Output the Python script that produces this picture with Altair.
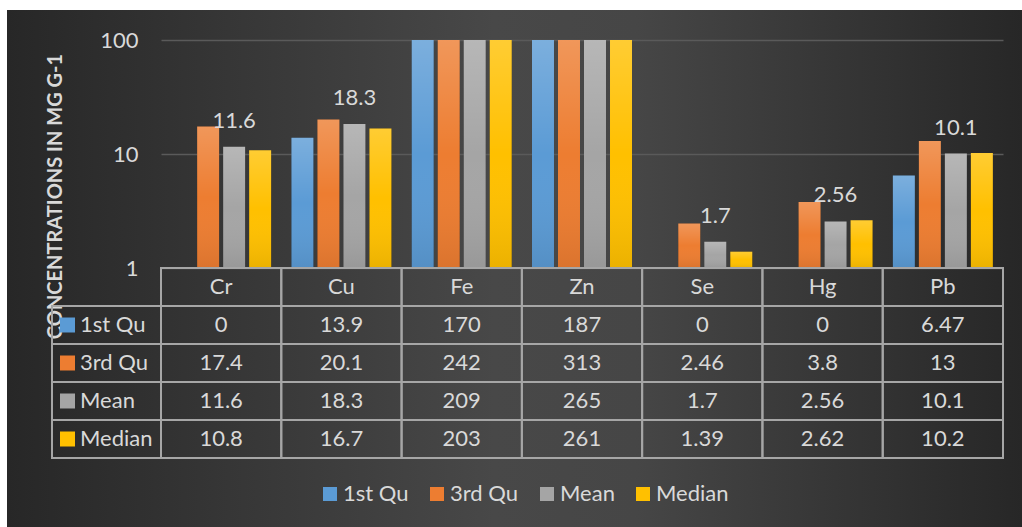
import altair as alt
import pandas as pd

# Summary statistics of metal concentrations (mg g-1)
metals = ["Cr", "Cu", "Fe", "Zn", "Se", "Hg", "Pb"]
series = ["1st Qu", "3rd Qu", "Mean", "Median"]
first_qu = [0, 13.9, 170, 187, 0, 0, 6.47]
third_qu = [17.4, 20.1, 242, 313, 2.46, 3.8, 13]
mean_vals = [11.6, 18.3, 209, 265, 1.7, 2.56, 10.1]
median_vals = [10.8, 16.7, 203, 261, 1.39, 2.62, 10.2]
colors = ["#5b9bd5", "#ed7d31", "#a5a5a5", "#ffc000"]
y_ticks = [1, 10, 100]
row_domain = ["Metal"] + series

FONT = "Lato"
FS = 22
TXT = "#d9d9d9"
LINE = "#a6a6a6"

rows = []
for s, vals in zip(series, [first_qu, third_qu, mean_vals, median_vals]):
    for m, v in zip(metals, vals):
        rows.append({"metal": m, "series": s, "value": v})
df = pd.DataFrame(rows)

cell_rows = [{"metal": m, "row": "Metal", "text": m} for m in metals]
cell_rows += [{"metal": r["metal"], "row": r["series"], "text": f"{r['value']:g}"} for r in rows]
cells_df = pd.DataFrame(cell_rows)

# ---- backdrop (drawn first, in the top-left cell, behind everything) --------
backdrop = alt.Chart(pd.DataFrame({"k": [0]})).mark_rect(
    fill=alt.LinearGradient(
        gradient="linear", x1=0, x2=1, y1=0, y2=0,
        stops=[alt.GradientStop(color="#272727", offset=0),
               alt.GradientStop(color="#484848", offset=0.48),
               alt.GradientStop(color="#464646", offset=0.62),
               alt.GradientStop(color="#272727", offset=1)],
    )
).encode(x=alt.value(-45), x2=alt.value(970), y=alt.value(-30), y2=alt.value(487)).properties(
    width=109, height=228
)

# ---- bar panel -------------------------------------------------------------
x_enc = alt.X("metal:N", sort=metals,
              scale=alt.Scale(domain=metals, paddingInner=0, paddingOuter=0), axis=None)
xo_enc = alt.XOffset("series:N", sort=series,
                     scale=alt.Scale(domain=series, paddingInner=0.154, paddingOuter=0.39))
y_enc = alt.Y(
    "value:Q",
    scale=alt.Scale(type="log", domain=[1, 100], clamp=True),
    axis=alt.Axis(
        values=y_ticks, format="~g", grid=True, gridColor="#5a5a5a", gridWidth=1.5,
        domain=False, ticks=False, labelFontSize=FS, labelColor=TXT, labelFont=FONT,
        labelPadding=23, title="CONCENTRATIONS IN MG G-1", titleFontSize=20,
        titleFontWeight="bold", titleColor=TXT, titleFont=FONT, titleAngle=270,
        titleX=-106, titleY=156, titleAlign="center", titleBaseline="middle",
    ),
)

base = alt.Chart(df).transform_filter("datum.value > 0").encode(
    x=x_enc, xOffset=xo_enc, y=y_enc, y2=alt.datum(1)
)

shadow_l = base.mark_bar(color="black", opacity=0.2, xOffset=-3)
shadow_r = base.mark_bar(color="black", opacity=0.28, xOffset=4)

bars = base.mark_bar().encode(
    color=alt.Color(
        "series:N", sort=series, scale=alt.Scale(domain=series, range=colors),
        legend=alt.Legend(
            orient="none", legendX=158, legendY=443, direction="horizontal", title=None,
            symbolType="square", symbolSize=196, symbolStrokeWidth=0,
            labelFontSize=FS, labelColor=TXT, labelFont=FONT, labelOffset=2,
            columnPadding=17,
        ),
    )
)

sheen = base.mark_bar(
    fill=alt.LinearGradient(
        gradient="linear", x1=0, x2=0, y1=0, y2=1,
        stops=[alt.GradientStop(color="rgba(255,255,255,0.2)", offset=0),
               alt.GradientStop(color="rgba(255,255,255,0)", offset=0.5),
               alt.GradientStop(color="rgba(0,0,0,0.08)", offset=1)],
    )
)

labels = alt.Chart(df).transform_filter(
    "datum.series == 'Mean' && datum.value < 100"
).mark_text(dy=-26, fontSize=FS, color=TXT, font=FONT).encode(
    x=x_enc, xOffset=xo_enc, y=y_enc, text=alt.Text("value:Q", format="~g")
)

bar_panel = alt.layer(shadow_l, shadow_r, bars, sheen, labels).properties(
    width=842, height=228
)

# ---- data table ------------------------------------------------------------
y_rows = alt.Y("row:N", scale=alt.Scale(domain=row_domain, paddingInner=0, paddingOuter=0),
               axis=None)
cell_base = alt.Chart(cells_df).encode(
    x=alt.X("metal:N", sort=metals,
            scale=alt.Scale(domain=metals, paddingInner=0, paddingOuter=0), axis=None),
    y=y_rows,
)
cell_grid = cell_base.mark_rect(fill="transparent", stroke=LINE, strokeWidth=2)
cell_text = cell_base.mark_text(fontSize=FS, color=TXT, font=FONT).encode(text="text:N")
table = alt.layer(cell_grid, cell_text).properties(width=842, height=190)

lab_df = pd.DataFrame({"row": series})
lab_base = alt.Chart(lab_df).encode(y=y_rows)
lab_grid = lab_base.mark_rect(fill="transparent", stroke=LINE, strokeWidth=2).encode(
    x=alt.value(0), x2=alt.value(109)
)
lab_keys = lab_base.mark_square(size=225, opacity=1).encode(
    x=alt.value(15.5),
    color=alt.Color("row:N", scale=alt.Scale(domain=series, range=colors), legend=None),
)
lab_text = lab_base.mark_text(align="left", fontSize=FS, color=TXT, font=FONT).encode(
    x=alt.value(28), text="row:N"
)
row_labels = alt.layer(lab_grid, lab_keys, lab_text).properties(width=109, height=190)

chart = alt.concat(
    backdrop, bar_panel, row_labels, table, columns=2, spacing=0, bounds="flush"
).resolve_scale(color="independent").properties(
    padding={"left": 7, "top": 10, "right": 0, "bottom": 0}, background="white"
).configure_view(stroke=None)

chart.save("out.html", embed_options={"renderer": "svg", "actions": False})
